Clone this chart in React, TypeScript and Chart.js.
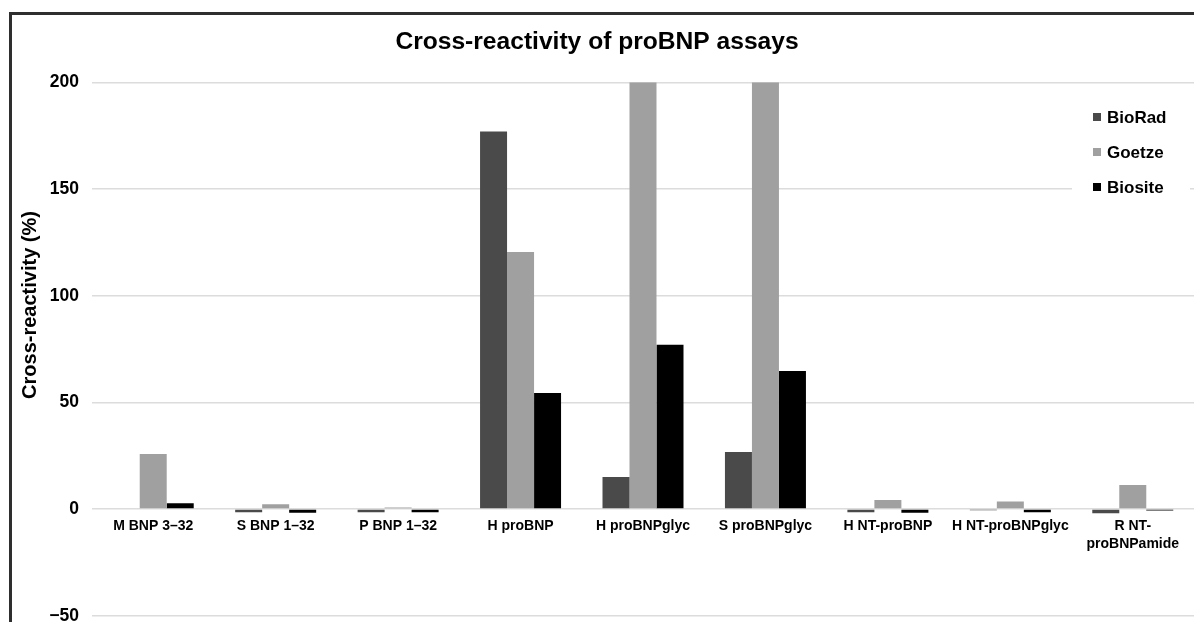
import React, { useEffect, useRef } from "react";
import { Chart, registerables } from "chart.js";

Chart.register(...registerables);

const chartTitle = "Cross-reactivity of proBNP assays";
const yAxisTitle = "Cross-reactivity (%)";

const categories: (string | string[])[] = [
  "M BNP 3–32",
  "S BNP 1–32",
  "P BNP 1–32",
  "H proBNP",
  "H proBNPglyc",
  "S proBNPglyc",
  "H NT-proBNP",
  "H NT-proBNPglyc",
  ["R NT-", "proBNPamide"],
];

const seriesNames = ["BioRad", "Goetze", "Biosite"];
const bioRad = [null, -1.5, -1.5, 177, 15, 26.7, -1.5, -0.6, -2];
const goetze = [25.8, 2.2, 0.7, 120.5, 200, 200, 4.2, 3.5, 11.3];
const biosite = [2.7, -1.7, -1.5, 54.4, 77, 64.7, -1.8, -1.5, -0.7];
const seriesColors = ["#4a4a4a", "#a0a0a0", "#000000"];
const yTicks = [-50, 0, 50, 100, 150, 200];

const FONT = "'Liberation Sans', Arial, Helvetica, sans-serif";

const yTitlePlugin = {
  id: "yTitlePlugin",
  afterDraw(chart: any) {
    const ctx = chart.ctx;
    ctx.save();
    ctx.translate(30, 305);
    ctx.rotate(-Math.PI / 2);
    ctx.font = `bold 20px ${FONT}`;
    ctx.fillStyle = "#000";
    ctx.textAlign = "center";
    ctx.textBaseline = "middle";
    ctx.fillText(yAxisTitle, 0, 0);
    ctx.restore();
  },
};

const legendPlugin = {
  id: "insideLegend",
  afterDatasetsDraw(chart: any) {
    const ctx = chart.ctx;
    ctx.save();
    ctx.fillStyle = "#ffffff";
    ctx.fillRect(1072, 94, 118, 110);
    const rows = [117, 152, 187];
    chart.data.datasets.forEach((ds: any, i: number) => {
      const y = rows[i];
      ctx.fillStyle = ds.backgroundColor;
      ctx.fillRect(1093, y - 4, 8, 8);
      ctx.font = `bold 17px ${FONT}`;
      ctx.fillStyle = "#000";
      ctx.textAlign = "left";
      ctx.textBaseline = "middle";
      ctx.fillText(ds.label, 1107, y + 1);
    });
    ctx.restore();
  },
};

export default function App() {
  const canvasRef = useRef<HTMLCanvasElement | null>(null);

  useEffect(() => {
    if (!canvasRef.current) return;
    const seriesValues = [bioRad, goetze, biosite];
    const chart = new Chart(canvasRef.current, {
      type: "bar",
      data: {
        labels: categories,
        datasets: seriesNames.map((name, i) => ({
          label: name,
          data: seriesValues[i] as any,
          backgroundColor: seriesColors[i],
          borderWidth: 0,
          categoryPercentage: 0.6615,
          barPercentage: 1,
          clip: 0,
        })),
      },
      options: {
        animation: false,
        responsive: false,
        maintainAspectRatio: false,
        layout: { padding: { top: 0, left: 0, right: 0, bottom: 44.3 } },
        plugins: {
          legend: { display: false },
          tooltip: { enabled: false },
          title: {
            display: true,
            text: chartTitle,
            color: "#000",
            font: { family: FONT, size: 24.6, weight: "bold" },
            padding: { top: 27.5, bottom: 25.3 },
          },
        },
        scales: {
          x: {
            position: { y: 0 } as any,
            grid: { display: false, drawTicks: false },
            border: { display: false },
            ticks: {
              color: "#000",
              font: { family: FONT, size: 14, weight: "bold", lineHeight: 1.3 },
              padding: 8,
              maxRotation: 0,
              minRotation: 0,
              autoSkip: false,
            },
          },
          y: {
            min: yTicks[0],
            max: yTicks[yTicks.length - 1],
            afterBuildTicks: (scale: any) => {
              scale.ticks = yTicks.map((v) => ({ value: v }));
            },
            afterFit: (scale: any) => {
              scale.width = 92;
            },
            grid: { color: "#dcdcdc", lineWidth: 1.6, drawTicks: false },
            border: { display: false },
            ticks: {
              color: "#000",
              padding: 13,
              font: { family: FONT, size: 17.5, weight: "bold" },
              callback: (v: any) => (Number(v) < 0 ? "−" + Math.abs(Number(v)) : String(v)),
            },
          },
        },
      },
      plugins: [yTitlePlugin, legendPlugin],
    });
    return () => chart.destroy();
  }, []);

  return (
    <div
      style={{
        position: "absolute",
        left: 0,
        top: 0,
        width: 1194,
        height: 622,
        overflow: "hidden",
        background: "#fff",
      }}
    >
      <canvas
        ref={canvasRef}
        width={1194}
        height={660}
        style={{ position: "absolute", left: 0, top: 0, width: 1194, height: 660 }}
      />
      <div
        style={{
          position: "absolute",
          left: 9,
          top: 12,
          width: 2000,
          height: 2000,
          borderLeft: "3px solid #2e2e2e",
          borderTop: "3px solid #2e2e2e",
          pointerEvents: "none",
        }}
      />
    </div>
  );
}
